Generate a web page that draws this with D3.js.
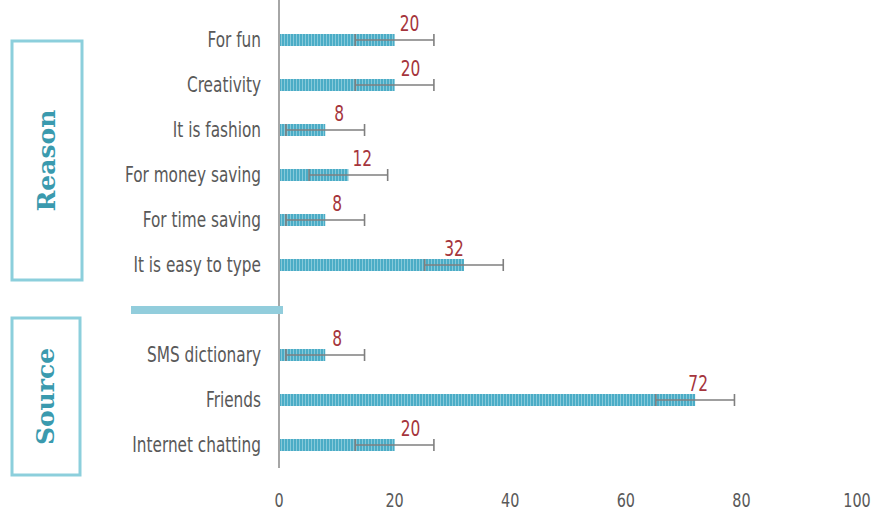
<!DOCTYPE html>
<html>
<head>
<meta charset="utf-8">
<script src="https://cdn.jsdelivr.net/npm/d3@7"></script>
<style>
  body { margin: 0; background: #fff; }
  svg { display: block; }
</style>
</head>
<body>
<div id="graph"></div>
<script>
const width = 873, height = 510;

// data
const reasons = ["For fun", "Creativity", "It is fashion ", "For money saving", "For time saving", "It is easy to type"];
const reasonValues = [20, 20, 8, 12, 8, 32];
const sources = ["SMS dictionary", "Friends", "Internet chatting"];
const sourceValues = [8, 72, 20];
const errorSize = 6.8;
const xTicks = [0, 20, 40, 60, 80, 100];
const groupNames = ["Reason", "Source"];
// label nudges (px) as placed in the original
const labelShift = [15, 16, 14, 14, 12, -10, 12, 3, 16];

const rows = reasons.map((c, i) => ({name: c, value: reasonValues[i]}))
  .concat([{name: "__gap", value: null}])
  .concat(sources.map((c, i) => ({name: c, value: sourceValues[i]})));

const labelFont = "'DejaVu Sans Condensed', 'DejaVu Sans', sans-serif";

const svg = d3.select("#graph")
  .append("svg")
  .attr("width", width)
  .attr("height", height);

const defs = svg.append("defs");
const pat = defs.append("pattern")
  .attr("id", "stripes")
  .attr("patternUnits", "userSpaceOnUse")
  .attr("width", 3).attr("height", 10);
pat.append("rect").attr("width", 3).attr("height", 10).attr("fill", "#4bacc6");
pat.append("rect").attr("x", 2).attr("width", 1).attr("height", 10).attr("fill", "#86c9da");

const x = d3.scaleLinear().domain([0, 100]).range([279, 857]);
const y = d3.scaleBand().domain(rows.map(d => d.name)).range([17.5, 467.5]);
const cy = n => y(n) + y.bandwidth() / 2;
const barH = 12;

// axis line
svg.append("line")
  .attr("x1", 279).attr("x2", 279)
  .attr("y1", 0).attr("y2", 468)
  .attr("stroke", "#a6a6a6").attr("stroke-width", 2);

// bars
const data = rows.filter(d => d.value != null);
data.forEach((d, i) => d.shift = labelShift[i]);

svg.selectAll("rect.bar")
  .data(data)
  .join("rect")
  .attr("class", "bar")
  .attr("x", x(0) + 1)
  .attr("y", d => cy(d.name) - barH / 2)
  .attr("width", d => x(d.value) - x(0) - 1)
  .attr("height", barH)
  .attr("fill", "url(#stripes)");

// separator bar
svg.append("rect")
  .attr("x", 131).attr("y", cy("__gap") - 4)
  .attr("width", 152).attr("height", 8)
  .attr("fill", "#92cddc");

// error bars
const eb = svg.selectAll("g.err")
  .data(data)
  .join("g")
  .attr("class", "err")
  .attr("stroke", "#7f7f7f")
  .attr("stroke-width", 1.6);
eb.append("line")
  .attr("x1", d => x(d.value - errorSize))
  .attr("x2", d => x(d.value + errorSize))
  .attr("y1", d => cy(d.name)).attr("y2", d => cy(d.name));
eb.append("line")
  .attr("x1", d => x(d.value - errorSize)).attr("x2", d => x(d.value - errorSize))
  .attr("y1", d => cy(d.name) - 6).attr("y2", d => cy(d.name) + 6);
eb.append("line")
  .attr("x1", d => x(d.value + errorSize)).attr("x2", d => x(d.value + errorSize))
  .attr("y1", d => cy(d.name) - 6).attr("y2", d => cy(d.name) + 6);

// value labels
svg.selectAll("text.val")
  .data(data)
  .join("text")
  .attr("class", "val")
  .attr("transform", d => `translate(${x(d.value) + d.shift},${cy(d.name) - 9}) scale(0.78,1)`)
  .attr("text-anchor", "middle")
  .style("font", "22px " + labelFont)
  .attr("fill", "#a5353c")
  .text(d => d.value);

// category labels
svg.selectAll("text.cat")
  .data(data)
  .join("text")
  .attr("class", "cat")
  .attr("transform", d => `translate(261,${cy(d.name) + 7}) scale(0.83,1)`)
  .attr("text-anchor", "end")
  .style("font", "20.5px " + labelFont)
  .attr("fill", "#595959")
  .text(d => d.name);

// x axis
const xAxis = svg.append("g")
  .attr("transform", "translate(0,482)")
  .call(d3.axisBottom(x).tickValues(xTicks).tickSize(0).tickPadding(0));
xAxis.select(".domain").remove();
xAxis.selectAll("text")
  .attr("y", 0)
  .attr("dy", 0)
  .attr("transform", "translate(0,25) scale(0.8,1)")
  .style("font", "20px " + labelFont)
  .attr("fill", "#595959");
xAxis.selectAll(".tick")
  .attr("transform", d => `translate(${x(d)},0)`);

// group boxes
const boxes = [
  {name: groupNames[0], x: 12, y: 41, w: 70, h: 239},
  {name: groupNames[1], x: 12, y: 318, w: 68, h: 157}
];
const bx = svg.selectAll("g.box")
  .data(boxes)
  .join("g")
  .attr("class", "box");
bx.append("rect")
  .attr("x", d => d.x).attr("y", d => d.y)
  .attr("width", d => d.w).attr("height", d => d.h)
  .attr("fill", "none")
  .attr("stroke", "#8ccfdc")
  .attr("stroke-width", 3);
bx.append("text")
  .attr("transform", d => `translate(${d.x + d.w / 2 + 8},${d.y + d.h / 2}) rotate(-90)`)
  .attr("text-anchor", "middle")
  .style("font", "bold 25px 'DejaVu Serif', 'Liberation Serif', serif")
  .attr("fill", "#3a9aae")
  .text(d => d.name);
</script>
</body>
</html>
